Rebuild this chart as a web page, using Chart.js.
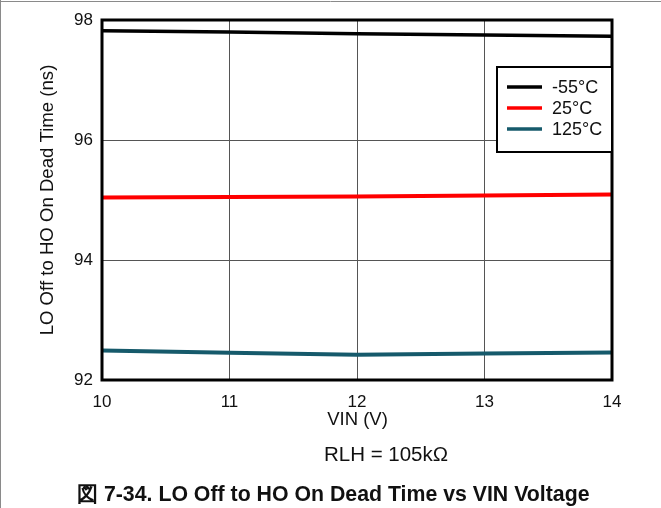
<!DOCTYPE html>
<html>
<head>
<meta charset="utf-8">
<script src="https://cdn.jsdelivr.net/npm/chart.js@4"></script>
<style>
html,body{margin:0;padding:0;background:#fff;}
#c{display:block;}
</style>
</head>
<body>
<canvas id="c" width="661" height="508"></canvas>
<script>
const vin = [10, 11, 12, 13, 14];
const seriesNames = ['-55°C', '25°C', '125°C'];
const tM55 = [97.82, 97.80, 97.77, 97.75, 97.73];
const t25 = [95.04, 95.05, 95.06, 95.075, 95.09];
const t125 = [92.49, 92.455, 92.42, 92.44, 92.46];
const xTicks = [10, 11, 12, 13, 14];
const yTicks = [92, 94, 96, 98];
const yTitle = 'LO Off to HO On Dead Time (ns)';
const xTitle = 'VIN (V)';
const condition = 'RLH = 105kΩ';
const caption = '図 7-34. LO Off to HO On Dead Time vs VIN Voltage';

const colors = ['#000000', '#ff0000', '#165a6b'];
const FONT = "'Liberation Sans', Arial, sans-serif";
const allSeries = [tM55, t25, t125];

const datasets = allSeries.map((s, i) => ({
  label: seriesNames[i],
  data: vin.map((x, j) => ({x: x, y: s[j]})),
  borderColor: colors[i],
  backgroundColor: colors[i],
  borderWidth: i === 0 ? 3.5 : 4,
  pointRadius: 0,
  tension: 0,
  fill: false
}));

const decor = {
  id: 'decor',
  afterDraw(chart) {
    const ctx = chart.ctx;
    const a = chart.chartArea;
    ctx.save();
    // page border (top and left)
    ctx.strokeStyle = '#8a8a8a';
    ctx.lineWidth = 1;
    ctx.beginPath();
    ctx.moveTo(0, 1.5); ctx.lineTo(661, 1.5);
    ctx.moveTo(0.5, 0); ctx.lineTo(0.5, 508);
    ctx.stroke();
    // frame
    ctx.strokeStyle = '#000';
    ctx.lineWidth = 3;
    ctx.strokeRect(a.left, a.top, a.right - a.left, a.bottom - a.top);
    // legend
    const lx = 497, ly = 67, lw = a.right - lx, lh = 85;
    ctx.fillStyle = '#fff';
    ctx.fillRect(lx, ly, lw, lh);
    ctx.lineWidth = 2;
    ctx.strokeRect(lx, ly, lw, lh);
    ctx.font = '18px ' + FONT;
    ctx.textBaseline = 'middle';
    ctx.textAlign = 'left';
    const rows = [87, 108, 129];
    seriesNames.forEach((n, i) => {
      ctx.strokeStyle = colors[i];
      ctx.lineWidth = 3.5;
      ctx.beginPath();
      ctx.moveTo(507, rows[i]); ctx.lineTo(542, rows[i]);
      ctx.stroke();
      ctx.fillStyle = '#111';
      ctx.fillText(n, 552, rows[i] + 1);
    });
    // titles
    ctx.fillStyle = '#111';
    ctx.textAlign = 'center';
    ctx.font = '18.5px ' + FONT;
    ctx.fillText(xTitle, 357.5, 420);
    ctx.font = '20.5px ' + FONT;
    ctx.fillText(condition, 386, 455);
    ctx.save();
    ctx.translate(48, (a.top + a.bottom) / 2);
    ctx.rotate(-Math.PI / 2);
    ctx.font = '18.6px ' + FONT;
    ctx.fillText(yTitle, 0, 0);
    ctx.restore();
    ctx.font = 'bold 21.3px ' + FONT;
    ctx.textAlign = 'left';
    ctx.fillText(caption, 77, 495);
    ctx.restore();
  }
};

new Chart(document.getElementById('c'), {
  type: 'line',
  data: { datasets: datasets },
  options: {
    responsive: false,
    animation: false,
    events: [],
    layout: { padding: { top: 20, right: 49, left: 0, bottom: 0 } },
    plugins: { legend: { display: false }, tooltip: { enabled: false }, title: { display: false } },
    scales: {
      x: {
        type: 'linear', min: 10, max: 14,
        afterFit(s) { s.height = 128; },
        afterBuildTicks(s) { s.ticks = xTicks.map(v => ({value: v})); },
        grid: { color: '#555', lineWidth: 1, drawTicks: false },
        border: { display: false },
        ticks: { font: { size: 17, family: FONT }, color: '#111', padding: 12, maxRotation: 0 }
      },
      y: {
        type: 'linear', min: 92, max: 98,
        afterFit(s) { s.width = 102; },
        afterBuildTicks(s) { s.ticks = yTicks.map(v => ({value: v})); },
        grid: { color: '#555', lineWidth: 1, drawTicks: false },
        border: { display: false },
        ticks: { font: { size: 17, family: FONT }, color: '#111', padding: 9 }
      }
    }
  },
  plugins: [decor]
});
</script>
</body>
</html>
